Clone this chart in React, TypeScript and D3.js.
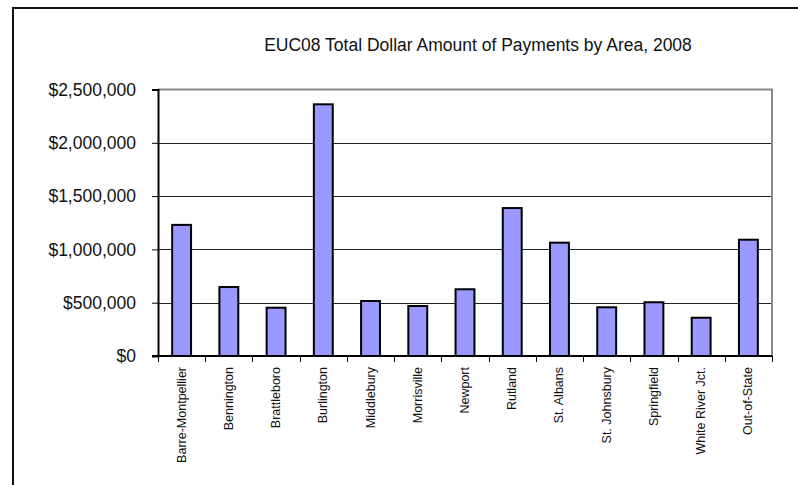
import { useEffect, useRef } from "react";
import * as d3 from "d3";

const areas = [
  "Barre-Montpellier",
  "Bennington",
  "Brattleboro",
  "Burlington",
  "Middlebury",
  "Morrisville",
  "Newport",
  "Rutland",
  "St. Albans",
  "St. Johnsbury",
  "Springfield",
  "White River Jct.",
  "Out-of-State",
];

const payments = [
  1230000, 647000, 453000, 2361000, 516000, 469000, 626000, 1388000, 1063000,
  457000, 504000, 359000, 1091000,
];

const yTicks = [0, 500000, 1000000, 1500000, 2000000, 2500000];

const title = "EUC08 Total Dollar Amount of Payments by Area, 2008";

const App = () => {
  const svgRef = useRef<SVGSVGElement | null>(null);

  useEffect(() => {
    const svg = d3.select(svgRef.current);
    svg.selectAll("*").remove();

    const width = 798,
      height = 485;
    const plot = { left: 158, top: 89.5, right: 772, bottom: 356 };
    const font = "'Liberation Sans', Arial, sans-serif";

    svg
      .append("rect")
      .attr("width", width)
      .attr("height", height)
      .attr("fill", "#fff");

    // outer chart frame (runs off the right and bottom)
    svg
      .append("rect")
      .attr("x", 13)
      .attr("y", 8)
      .attr("width", width + 20)
      .attr("height", height + 20)
      .attr("fill", "none")
      .attr("stroke", "#111")
      .attr("stroke-width", 2);

    svg
      .append("text")
      .attr("x", 478)
      .attr("y", 51)
      .attr("text-anchor", "middle")
      .attr("font-family", font)
      .attr("font-size", 17.5)
      .attr("fill", "#111")
      .text(title);

    const x = d3
      .scaleBand()
      .domain(areas)
      .range([plot.left, plot.right])
      .paddingInner(0.6)
      .paddingOuter(0.3);

    const y = d3
      .scaleLinear()
      .domain([0, 2500000])
      .range([plot.bottom, plot.top]);

    // gridlines
    svg
      .append("g")
      .selectAll("line")
      .data(yTicks.slice(1, -1))
      .enter()
      .append("line")
      .attr("x1", plot.left)
      .attr("x2", plot.right)
      .attr("y1", (d) => Math.round(y(d)) + 0.5)
      .attr("y2", (d) => Math.round(y(d)) + 0.5)
      .attr("stroke", "#222")
      .attr("stroke-width", 1);

    // plot area top and right border
    svg
      .append("path")
      .attr("d", `M${plot.left},${plot.top}H${plot.right}V${plot.bottom}`)
      .attr("fill", "none")
      .attr("stroke", "#8a8a8a")
      .attr("stroke-width", 2);

    // bars
    svg
      .append("g")
      .selectAll("rect")
      .data(payments)
      .enter()
      .append("rect")
      .attr("x", (_, i) => x(areas[i])!)
      .attr("y", (d) => y(d))
      .attr("width", x.bandwidth())
      .attr("height", (d) => plot.bottom - y(d))
      .attr("fill", "#9999ff")
      .attr("stroke", "#000")
      .attr("stroke-width", 2);

    // y axis
    const yAxis = svg
      .append("g")
      .attr("transform", `translate(${plot.left},0)`)
      .call(
        d3
          .axisLeft(y)
          .tickValues(yTicks)
          .tickSize(6)
          .tickPadding(16)
          .tickFormat((d) => d3.format("$,")(d as number))
      );
    yAxis.select(".domain").attr("stroke", "#000").attr("stroke-width", 2);
    yAxis.selectAll(".tick line").attr("stroke", "#000");
    yAxis
      .selectAll(".tick text")
      .attr("font-family", font)
      .attr("font-size", 17.5)
      .attr("fill", "#111");

    // x axis line and category ticks
    const step = x.step();
    const boundaries = d3.range(areas.length + 1).map((i) => plot.left + i * step);
    svg
      .append("line")
      .attr("x1", plot.left - 6)
      .attr("x2", plot.right)
      .attr("y1", plot.bottom)
      .attr("y2", plot.bottom)
      .attr("stroke", "#000")
      .attr("stroke-width", 2);
    svg
      .append("g")
      .selectAll("line")
      .data(boundaries)
      .enter()
      .append("line")
      .attr("x1", (d) => Math.round(d) + 0.5)
      .attr("x2", (d) => Math.round(d) + 0.5)
      .attr("y1", plot.bottom)
      .attr("y2", plot.bottom + 6)
      .attr("stroke", "#000");

    svg
      .append("g")
      .selectAll("text")
      .data(areas)
      .enter()
      .append("text")
      .attr(
        "transform",
        (d) => `translate(${x(d)! + x.bandwidth() / 2 + 4},367) rotate(-90)`
      )
      .attr("text-anchor", "end")
      .attr("font-family", font)
      .attr("font-size", 12.5)
      .attr("fill", "#111")
      .text((d) => d);
  }, []);

  return (
    <svg
      ref={svgRef}
      width={798}
      height={485}
      style={{ position: "absolute", left: 0, top: 0 }}
    ></svg>
  );
};

export default App;
